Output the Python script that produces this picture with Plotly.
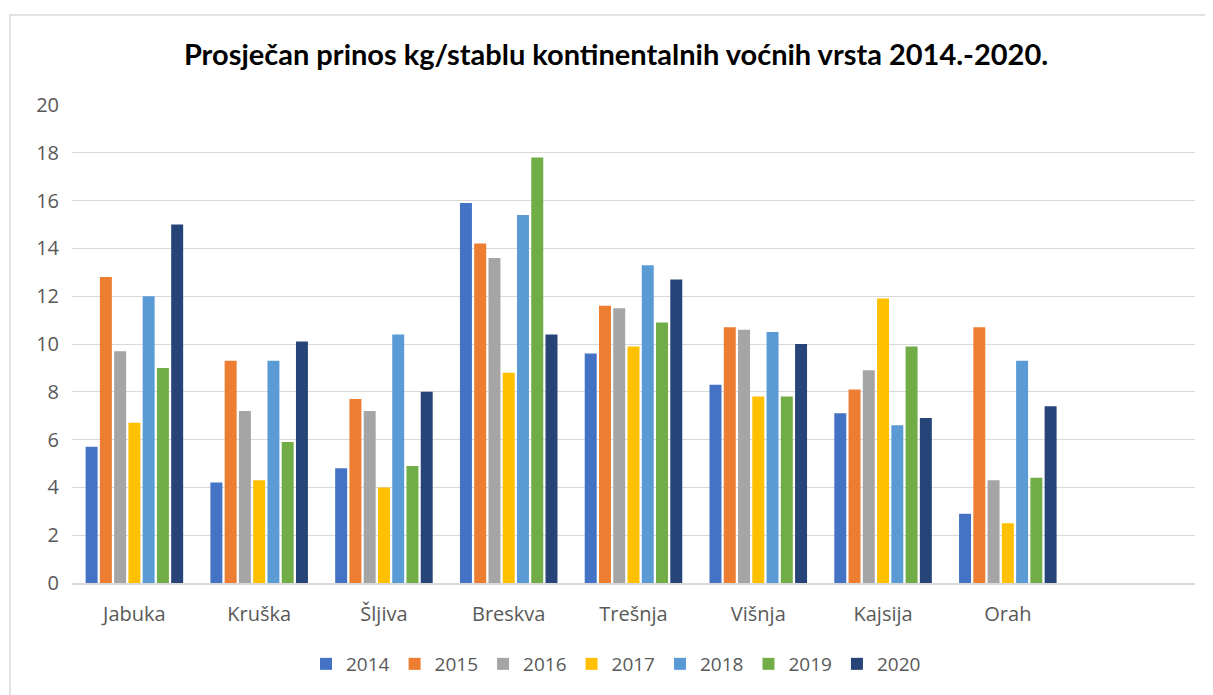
import plotly.graph_objects as go

categories = ["Jabuka", "Kruška", "Šljiva", "Breskva", "Trešnja", "Višnja", "Kajsija", "Orah"]
years = ["2014", "2015", "2016", "2017", "2018", "2019", "2020"]

v2014 = [5.7, 4.2, 4.8, 15.9, 9.6, 8.3, 7.1, 2.9]
v2015 = [12.8, 9.3, 7.7, 14.2, 11.6, 10.7, 8.1, 10.7]
v2016 = [9.7, 7.2, 7.2, 13.6, 11.5, 10.6, 8.9, 4.3]
v2017 = [6.7, 4.3, 4.0, 8.8, 9.9, 7.8, 11.9, 2.5]
v2018 = [12.0, 9.3, 10.4, 15.4, 13.3, 10.5, 6.6, 9.3]
v2019 = [9.0, 5.9, 4.9, 17.8, 10.9, 7.8, 9.9, 4.4]
v2020 = [15.0, 10.1, 8.0, 10.4, 12.7, 10.0, 6.9, 7.4]

series = [v2014, v2015, v2016, v2017, v2018, v2019, v2020]
colors = ["#4472C4", "#ED7D31", "#A5A5A5", "#FFC000", "#5B9BD5", "#70AD47", "#264478"]

fig = go.Figure()
for name, vals, col in zip(years, series, colors):
    fig.add_trace(go.Bar(x=categories, y=vals, name=name,
                         marker=dict(color=col, line=dict(width=0))))

txt = "#595959"
# page body has an 8px margin, so the figure is sized/offset accordingly
W, H = 1205, 687
L, R, T, B = 64, 18, 97, 112
pw, ph = W - L - R, H - T - B

fig.update_layout(
    width=W, height=H,
    paper_bgcolor="white", plot_bgcolor="white",
    margin=dict(l=L, r=R, t=T, b=B),
    barmode="group", bargap=0.2, bargroupgap=0.16,
    title=dict(text="<b>Prosječan prinos kg/stablu kontinentalnih voćnih vrsta 2014.-2020.</b>",
               x=(616 - 8) / W, xanchor="center", y=1 - 47 / H, yanchor="middle",
               font=dict(family="Lato", size=29, color="black")),
    font=dict(family="Open Sans", color=txt),
    legend=dict(orientation="h", x=(616 - 8 - L) / pw, xanchor="center",
                y=-(664 - 583) / ph, yanchor="middle",
                font=dict(size=19, color=txt), itemwidth=30, traceorder="normal",
                itemclick=False),
    showlegend=True,
)
fig.update_xaxes(type="category", categoryorder="array", categoryarray=categories,
                 range=[-0.5, 8.5], showgrid=False, showline=True, linecolor="#d9d9d9",
                 linewidth=2, ticks="", tickfont=dict(size=20, color=txt),
                 ticklabelstandoff=12)
fig.update_yaxes(range=[0, 20], dtick=2, showgrid=True, gridcolor="#d9d9d9", gridwidth=1,
                 zeroline=False, showline=False, ticks="", tickfont=dict(size=20, color=txt),
                 ticklabelstandoff=12)

# outer chart border (left and top edges visible)
fig.add_shape(type="rect", xref="paper", yref="paper",
              x0=(2 - L) / pw, x1=1.2, y0=-0.5, y1=(H - B - 7) / ph,
              line=dict(color="#d9d9d9", width=1.5), layer="below")

fig.write_html("out.html")
